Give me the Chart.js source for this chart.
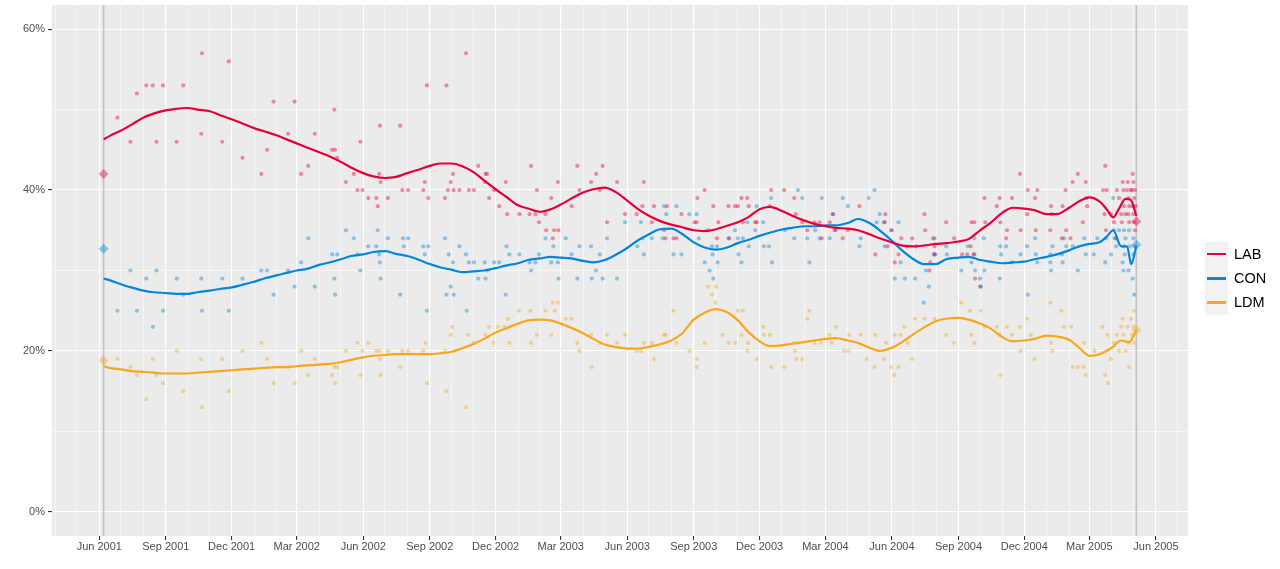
<!DOCTYPE html>
<html>
<head>
<meta charset="utf-8">
<script src="https://cdn.jsdelivr.net/npm/chart.js@4/dist/chart.umd.min.js"></script>
<style>
html, body { margin: 0; padding: 0; background: #fff; }
#wrap { position: relative; width: 1280px; height: 569px; }
#legend { position: absolute; left: 1205px; top: 242px; font-family: "Liberation Sans", Arial, sans-serif; font-size: 14.5px; color: #000; }
.row { display: flex; align-items: center; height: 24.2px; }
.key { width: 23px; height: 24.2px; background: #f2f2f2; position: relative; }
.key span { position: absolute; left: 2px; right: 2px; top: 10.8px; height: 2.6px; }
.lbl { margin-left: 6px; }
</style>
</head>
<body>
<div id="wrap">
  <canvas id="c" width="1280" height="569"></canvas>
  <div id="legend"></div>
</div>
<script>
// parties
var partyNames  = ['LAB', 'CON', 'LDM'];
var partyColors = ['#E4003B', '#0087DC', '#FAA61A'];
var pointColors = ['rgba(228,0,59,0.42)', 'rgba(0,135,220,0.42)', 'rgba(250,166,26,0.42)'];

// general elections and results (%)
var electionDates = ['2001-06-07', '2005-05-05'];
var labResult = [42.0, 36.1];
var conResult = [32.7, 33.2];
var ldmResult = [18.8, 22.6];

// x axis ticks
var xTickDates  = ['2001-06-01','2001-09-01','2001-12-01','2002-03-01','2002-06-01','2002-09-01','2002-12-01','2003-03-01','2003-06-01','2003-09-01','2003-12-01','2004-03-01','2004-06-01','2004-09-01','2004-12-01','2005-03-01','2005-06-01'];
var xTickLabels = ['Jun 2001','Sep 2001','Dec 2001','Mar 2002','Jun 2002','Sep 2002','Dec 2002','Mar 2003','Jun 2003','Sep 2003','Dec 2003','Mar 2004','Jun 2004','Sep 2004','Dec 2004','Mar 2005','Jun 2005'];
var yMajor = [0, 20, 40, 60];
var yMinor = [10, 30, 50];

// opinion polls [fieldwork date, %]
var labPolls = [
  ['2001-06-26',49],['2001-07-14',46],['2001-07-23',52],['2001-08-05',53],['2001-08-14',53],['2001-08-19',46],['2001-08-28',53],['2001-09-16',46],['2001-09-25',53],['2001-10-20',47],['2001-10-21',57],['2001-11-18',46],['2001-11-27',56],['2001-12-16',44],
  ['2002-01-11',42],['2002-01-19',45],['2002-01-28',51],['2002-02-17',47],['2002-02-26',51],['2002-03-07',42],['2002-03-17',43],['2002-03-26',47],['2002-04-19',45],['2002-04-22',50],['2002-04-23',45],['2002-04-26',44],['2002-05-08',41],['2002-05-19',42],['2002-05-24',40],['2002-05-28',46],['2002-05-31',40],['2002-06-08',39],['2002-06-19',39],['2002-06-21',38],['2002-06-23',42],['2002-06-24',48],['2002-06-25',41],['2002-07-05',39],['2002-07-22',48],['2002-07-25',40],['2002-08-02',40],['2002-08-23',40],['2002-08-25',41],['2002-08-28',53],['2002-08-30',39],['2002-09-22',39],['2002-09-24',53],['2002-09-26',40],['2002-09-30',41],['2002-10-03',42],['2002-10-04',40],['2002-10-12',40],['2002-10-21',57],['2002-10-25',40],['2002-11-01',40],['2002-11-07',43],['2002-11-16',41],['2002-11-17',42],['2002-11-19',42],['2002-11-22',39],['2002-11-29',40],['2002-12-06',38],['2002-12-15',41],['2002-12-17',37],
  ['2003-01-03',37],['2003-01-17',37],['2003-01-19',43],['2003-01-25',37],['2003-01-27',40],['2003-01-30',36],['2003-02-08',37],['2003-02-09',35],['2003-02-16',39],['2003-02-18',34],['2003-02-20',35],['2003-02-25',41],['2003-02-26',35],['2003-03-16',38],['2003-03-24',43],['2003-03-27',40],['2003-04-12',41],['2003-04-19',42],['2003-04-24',40],['2003-04-28',43],['2003-05-04',36],['2003-05-18',41],['2003-05-29',37],['2003-06-14',37],['2003-06-22',38],['2003-06-24',41],['2003-07-05',36],['2003-07-08',38],['2003-07-22',35],['2003-07-24',34],['2003-07-26',38],['2003-08-04',34],['2003-08-08',34],['2003-08-15',37],['2003-09-02',36],['2003-09-05',36],['2003-09-06',39],['2003-09-16',40],['2003-09-21',35],['2003-09-28',38],['2003-10-03',34],['2003-10-05',36],['2003-10-19',38],['2003-10-20',34],['2003-10-28',38],['2003-11-01',38],['2003-11-06',39],['2003-11-08',36],['2003-11-14',39],['2003-11-16',38],['2003-11-25',36],['2003-11-27',36],['2003-12-15',38],['2003-12-17',40],
  ['2004-01-04',40],['2004-01-18',39],['2004-01-20',37],['2004-01-29',36],['2004-02-05',35],['2004-02-15',36],['2004-02-22',36],['2004-02-25',34],['2004-03-07',36],['2004-03-11',37],['2004-03-14',35],['2004-03-25',34],['2004-04-01',35],['2004-04-17',38],['2004-05-09',32],['2004-05-22',36],['2004-05-23',37],['2004-05-26',33],['2004-05-31',35],['2004-06-05',31],['2004-06-10',32],['2004-06-14',34],['2004-06-22',33],['2004-06-29',34],['2004-07-05',33],['2004-07-16',37],['2004-07-17',35],['2004-07-23',30],['2004-07-24',31],['2004-07-28',34],['2004-07-29',32],['2004-07-30',33],['2004-08-15',36],['2004-08-26',34],['2004-09-06',32],['2004-09-13',32],['2004-09-18',33],['2004-09-19',36],['2004-09-22',32],['2004-09-23',36],['2004-09-24',29],['2004-10-01',28],['2004-10-07',39],['2004-10-08',36],['2004-10-24',38],['2004-10-28',39],['2004-10-29',36],['2004-11-06',34],['2004-11-07',35],['2004-11-14',39],['2004-11-25',42],['2004-11-26',35],['2004-12-05',37],['2004-12-06',40],['2004-12-16',39],['2004-12-17',35],['2004-12-19',40],
  ['2005-01-06',35],['2005-01-07',38],['2005-01-08',37],['2005-01-22',34],['2005-01-23',38],['2005-01-27',40],['2005-01-28',35],['2005-02-03',34],['2005-02-06',41],['2005-02-13',42],['2005-02-20',36],['2005-02-24',41],['2005-02-25',39],['2005-02-26',38],['2005-03-20',40],['2005-03-22',37],['2005-03-23',43],['2005-03-24',35],['2005-03-25',40],['2005-03-31',37],['2005-04-04',36],['2005-04-07',34],['2005-04-08',40],['2005-04-11',39],['2005-04-14',37],['2005-04-15',36],['2005-04-16',41],['2005-04-17',40],['2005-04-18',38],['2005-04-20',37],['2005-04-22',40],['2005-04-23',41],['2005-04-24',39],['2005-04-24',37],['2005-04-25',36],['2005-04-25',38],['2005-04-27',40],['2005-04-29',40],['2005-04-30',42],['2005-04-30',38],['2005-05-01',41],['2005-05-01',37],['2005-05-02',39],['2005-05-02',36],['2005-05-03',35],['2005-05-03',40],['2005-05-04',38]
];
var conPolls = [
  ['2001-06-26',25],['2001-07-14',30],['2001-07-23',25],['2001-08-05',29],['2001-08-14',23],['2001-08-19',30],['2001-08-28',25],['2001-09-16',29],['2001-09-25',27],['2001-10-20',29],['2001-10-21',25],['2001-11-18',29],['2001-11-27',25],['2001-12-16',29],
  ['2002-01-11',30],['2002-01-19',30],['2002-01-28',27],['2002-02-17',30],['2002-02-26',28],['2002-03-07',31],['2002-03-17',34],['2002-03-26',28],['2002-04-19',32],['2002-04-22',29],['2002-04-23',27],['2002-04-26',32],['2002-05-08',35],['2002-05-19',34],['2002-05-24',32],['2002-05-28',30],['2002-06-08',33],['2002-06-19',33],['2002-06-21',35],['2002-06-23',32],['2002-06-24',31],['2002-06-25',29],['2002-07-05',34],['2002-07-22',27],['2002-07-26',34],['2002-07-27',33],['2002-08-02',34],['2002-08-23',33],['2002-08-25',32],['2002-08-28',25],['2002-08-30',33],['2002-09-22',34],['2002-09-24',27],['2002-09-27',32],['2002-09-30',28],['2002-10-03',31],['2002-10-04',27],['2002-10-12',33],['2002-10-21',32],['2002-10-22',25],['2002-10-25',31],['2002-11-01',31],['2002-11-07',29],['2002-11-16',31],['2002-11-17',29],['2002-11-20',30],['2002-11-29',31],['2002-12-06',31],['2002-12-15',27],['2002-12-16',33],['2002-12-20',32],
  ['2003-01-03',32],['2003-01-17',31],['2003-01-19',30],['2003-01-25',31],['2003-01-30',32],['2003-02-08',34],['2003-02-16',31],['2003-02-19',33],['2003-02-25',31],['2003-02-26',29],['2003-03-08',34],['2003-03-16',32],['2003-03-24',29],['2003-03-27',33],['2003-04-12',33],['2003-04-13',29],['2003-04-19',30],['2003-04-24',32],['2003-04-28',29],['2003-05-04',34],['2003-05-18',29],['2003-05-29',36],['2003-06-15',33],['2003-06-20',36],['2003-06-22',34],['2003-06-24',32],['2003-07-05',34],['2003-07-20',34],['2003-07-22',38],['2003-07-25',37],['2003-08-04',32],['2003-08-08',38],['2003-08-15',32],['2003-08-26',37],['2003-09-05',37],['2003-09-08',34],['2003-09-16',31],['2003-09-23',30],['2003-09-26',33],['2003-09-27',32],['2003-09-28',29],['2003-10-03',33],['2003-10-04',31],['2003-10-19',34],['2003-10-28',35],['2003-11-01',34],['2003-11-02',32],['2003-11-06',31],['2003-11-08',34],['2003-11-14',36],['2003-11-16',33],['2003-11-25',35],['2003-11-27',38],['2003-12-06',36],['2003-12-07',33],['2003-12-14',33],['2003-12-17',39],['2003-12-18',31],
  ['2004-01-05',35],['2004-01-18',34],['2004-01-23',40],['2004-01-29',39],['2004-02-05',34],['2004-02-08',31],['2004-02-16',35],['2004-02-22',34],['2004-02-25',39],['2004-03-07',34],['2004-03-12',37],['2004-03-15',35],['2004-03-25',39],['2004-04-01',38],['2004-04-17',33],['2004-04-19',34],['2004-04-30',39],['2004-05-08',40],['2004-05-11',36],['2004-05-15',37],['2004-05-21',36],['2004-05-22',33],['2004-06-01',35],['2004-06-05',29],['2004-06-10',36],['2004-06-13',31],['2004-06-19',29],['2004-07-03',29],['2004-07-15',26],['2004-07-18',30],['2004-07-22',28],['2004-07-30',34],['2004-07-30',32],['2004-07-31',32],['2004-08-15',33],['2004-08-16',32],['2004-09-05',30],['2004-09-14',33],['2004-09-19',31],['2004-09-23',34],['2004-09-23',32],['2004-09-24',30],['2004-10-01',29],['2004-10-02',28],['2004-10-06',34],['2004-10-07',30],['2004-10-28',29],['2004-10-29',33],['2004-10-30',32],['2004-11-06',33],['2004-11-14',31],['2004-11-26',32],['2004-12-05',33],['2004-12-06',27],['2004-12-16',34],['2004-12-17',32],['2004-12-19',31],
  ['2005-01-06',32],['2005-01-06',31],['2005-01-07',30],['2005-01-09',33],['2005-01-22',32],['2005-01-23',31],['2005-01-25',34],['2005-01-28',33],['2005-02-06',33],['2005-02-13',30],['2005-02-22',34],['2005-02-24',32],['2005-03-07',32],['2005-03-12',34],['2005-03-23',31],['2005-03-24',34],['2005-03-31',32],['2005-04-03',39],['2005-04-04',35],['2005-04-05',34],['2005-04-07',33],['2005-04-11',35],['2005-04-16',31],['2005-04-17',30],['2005-04-18',35],['2005-04-18',33],['2005-04-19',32],['2005-04-20',34],['2005-04-24',30],['2005-04-25',35],['2005-04-26',33],['2005-04-28',31],['2005-04-30',29],['2005-05-01',34],['2005-05-01',32],['2005-05-02',27],['2005-05-02',33]
];
var ldmPolls = [
  ['2001-06-26',19],['2001-07-14',18],['2001-07-23',17],['2001-08-05',14],['2001-08-14',19],['2001-08-19',17],['2001-08-28',16],['2001-09-16',20],['2001-09-25',15],['2001-10-20',19],['2001-10-21',13],['2001-11-18',19],['2001-11-27',15],['2001-12-16',20],
  ['2002-01-11',21],['2002-01-19',19],['2002-01-28',16],['2002-02-17',18],['2002-02-26',16],['2002-03-07',20],['2002-03-17',17],['2002-03-26',19],['2002-04-19',17],['2002-04-22',18],['2002-04-23',16],['2002-04-26',18],['2002-05-08',20],['2002-05-24',21],['2002-05-28',17],['2002-05-31',20],['2002-06-08',21],['2002-06-19',20],['2002-06-23',20],['2002-06-24',19],['2002-06-25',17],['2002-07-05',20],['2002-07-22',18],['2002-07-25',20],['2002-08-02',20],['2002-08-23',20],['2002-08-26',21],['2002-08-28',16],['2002-09-22',20],['2002-09-24',15],['2002-09-30',22],['2002-10-02',23],['2002-10-21',13],['2002-10-24',22],['2002-11-01',21],['2002-11-17',22],['2002-11-22',23],['2002-11-28',21],['2002-12-04',23],['2002-12-13',23],['2002-12-18',24],['2002-12-20',21],
  ['2003-01-02',25],['2003-01-18',25],['2003-01-19',21],['2003-01-27',22],['2003-02-08',25],['2003-02-16',22],['2003-02-18',26],['2003-02-21',25],['2003-02-25',26],['2003-03-08',24],['2003-03-16',24],['2003-03-24',21],['2003-03-27',20],['2003-04-12',22],['2003-04-13',18],['2003-04-24',21],['2003-05-04',22],['2003-05-18',21],['2003-05-29',22],['2003-06-14',20],['2003-06-20',20],['2003-06-24',21],['2003-07-05',21],['2003-07-08',19],['2003-07-22',22],['2003-07-24',22],['2003-08-04',25],['2003-08-08',21],['2003-08-26',20],['2003-09-05',18],['2003-09-06',19],['2003-09-16',21],['2003-09-21',28],['2003-09-26',27],['2003-10-01',26],['2003-10-02',28],['2003-10-11',22],['2003-10-19',21],['2003-10-28',21],['2003-11-01',25],['2003-11-06',22],['2003-11-08',25],['2003-11-14',20],['2003-11-15',21],['2003-11-27',19],['2003-12-06',23],['2003-12-07',22],['2003-12-15',22],['2003-12-17',18],
  ['2004-01-04',18],['2004-01-18',21],['2004-01-19',20],['2004-01-21',19],['2004-01-29',19],['2004-02-05',24],['2004-02-08',25],['2004-02-15',21],['2004-02-24',21],['2004-03-07',22],['2004-03-10',21],['2004-03-16',23],['2004-03-27',20],['2004-04-02',20],['2004-04-03',22],['2004-04-19',22],['2004-04-27',19],['2004-05-08',18],['2004-05-09',22],['2004-05-21',19],['2004-05-24',21],['2004-05-31',18],['2004-06-04',17],['2004-06-05',22],['2004-06-10',18],['2004-06-13',22],['2004-06-18',23],['2004-06-23',21],['2004-06-29',19],['2004-07-03',24],['2004-07-16',24],['2004-07-30',24],['2004-08-15',22],['2004-08-26',21],['2004-09-05',26],['2004-09-17',25],['2004-09-19',22],['2004-09-23',21],['2004-10-02',25],['2004-10-07',23],['2004-10-24',23],['2004-10-28',22],['2004-10-29',17],['2004-11-07',23],['2004-11-14',22],['2004-11-25',23],['2004-11-26',20],['2004-12-05',24],['2004-12-10',22],['2004-12-15',19],
  ['2005-01-06',26],['2005-01-07',21],['2005-01-09',20],['2005-01-21',25],['2005-01-25',23],['2005-02-04',23],['2005-02-06',18],['2005-02-13',18],['2005-02-21',18],['2005-02-22',21],['2005-02-24',17],['2005-03-08',20],['2005-03-19',23],['2005-03-23',17],['2005-03-26',22],['2005-03-27',16],['2005-03-31',19],['2005-04-04',21],['2005-04-08',22],['2005-04-11',20],['2005-04-14',23],['2005-04-16',24],['2005-04-17',22],['2005-04-20',20],['2005-04-23',23],['2005-04-24',21],['2005-04-25',18],['2005-04-28',24],['2005-04-29',22],['2005-05-01',23],['2005-05-02',25],['2005-05-02',21]
];

// smoothed trend
var labTrend = [
  ['2001-06-07',46.3],['2001-06-15',46.7],['2001-07-01',47.4],['2001-07-15',48.1],['2001-08-01',49.0],['2001-08-15',49.5],['2001-09-01',49.9],['2001-09-15',50.1],['2001-10-01',50.2],['2001-10-15',50.0],['2001-11-01',49.8],['2001-11-15',49.3],['2001-12-01',48.8],['2001-12-15',48.3],
  ['2002-01-01',47.7],['2002-01-15',47.3],['2002-02-01',46.8],['2002-02-15',46.3],['2002-03-01',45.8],['2002-03-15',45.3],['2002-04-01',44.7],['2002-04-15',44.2],['2002-05-01',43.5],['2002-05-15',42.8],['2002-06-01',42.1],['2002-06-15',41.7],['2002-07-01',41.5],['2002-07-15',41.6],['2002-08-01',42.1],['2002-08-15',42.5],['2002-09-01',43.0],['2002-09-15',43.3],['2002-10-01',43.3],['2002-10-15',43.0],['2002-11-01',42.2],['2002-11-15',41.2],['2002-12-01',40.1],['2002-12-15',39.2],
  ['2003-01-01',38.1],['2003-01-15',37.7],['2003-02-01',37.3],['2003-02-15',37.6],['2003-03-01',38.2],['2003-03-15',38.9],['2003-04-01',39.7],['2003-04-15',40.1],['2003-05-01',40.3],['2003-05-15',39.8],['2003-06-01',38.7],['2003-06-15',37.7],['2003-07-01',36.8],['2003-07-15',36.2],['2003-08-01',35.7],['2003-08-15',35.4],['2003-09-01',35.0],['2003-09-15',34.9],['2003-10-01',35.1],['2003-10-15',35.5],['2003-11-01',36.0],['2003-11-15',36.6],['2003-12-01',37.6],['2003-12-15',37.9],
  ['2004-01-01',37.4],['2004-01-15',36.8],['2004-02-01',36.2],['2004-02-15',35.8],['2004-03-01',35.5],['2004-03-15',35.3],['2004-04-01',35.2],['2004-04-15',35.0],['2004-05-01',34.5],['2004-05-15',34.0],['2004-06-01',33.5],['2004-06-15',33.1],['2004-07-01',33.0],['2004-07-15',33.1],['2004-08-01',33.3],['2004-08-15',33.4],['2004-09-01',33.6],['2004-09-15',33.9],['2004-10-01',35.0],['2004-10-15',35.9],['2004-11-01',37.2],['2004-11-15',37.8],['2004-12-01',37.7],['2004-12-15',37.5],
  ['2005-01-01',37.0],['2005-01-15',37.0],['2005-02-01',37.8],['2005-02-15',38.6],['2005-03-01',39.1],['2005-03-15',38.6],['2005-03-25',37.6],['2005-04-03',36.6],['2005-04-11',37.7],['2005-04-20',38.9],['2005-04-27',38.8],['2005-05-05',36.8]
];
var conTrend = [
  ['2001-06-07',29.0],['2001-06-15',28.8],['2001-07-01',28.3],['2001-07-15',27.9],['2001-08-01',27.5],['2001-08-15',27.3],['2001-09-01',27.2],['2001-09-15',27.1],['2001-10-01',27.1],['2001-10-15',27.3],['2001-11-01',27.5],['2001-11-15',27.7],['2001-12-01',27.9],['2001-12-15',28.2],
  ['2002-01-01',28.6],['2002-01-15',29.0],['2002-02-01',29.4],['2002-02-15',29.7],['2002-03-01',30.0],['2002-03-15',30.2],['2002-04-01',30.7],['2002-04-15',31.0],['2002-05-01',31.4],['2002-05-15',31.8],['2002-06-01',32.0],['2002-06-15',32.3],['2002-07-01',32.4],['2002-07-15',32.1],['2002-08-01',31.8],['2002-08-15',31.4],['2002-09-01',30.8],['2002-09-15',30.4],['2002-10-01',30.1],['2002-10-15',29.8],['2002-11-01',29.9],['2002-11-15',30.0],['2002-12-01',30.3],['2002-12-15',30.6],
  ['2003-01-01',30.9],['2003-01-15',31.3],['2003-02-01',31.5],['2003-02-15',31.7],['2003-03-01',31.6],['2003-03-15',31.5],['2003-04-01',31.2],['2003-04-15',31.0],['2003-05-01',31.3],['2003-05-15',31.9],['2003-06-01',32.8],['2003-06-15',33.7],['2003-07-01',34.5],['2003-07-15',35.1],['2003-08-01',35.2],['2003-08-15',34.6],['2003-09-01',33.5],['2003-09-15',32.9],['2003-10-01',32.6],['2003-10-15',32.8],['2003-11-01',33.4],['2003-11-15',33.8],['2003-12-01',34.3],['2003-12-15',34.7],
  ['2004-01-01',35.1],['2004-01-15',35.3],['2004-02-01',35.5],['2004-02-15',35.5],['2004-03-01',35.6],['2004-03-15',35.6],['2004-04-01',35.9],['2004-04-15',36.4],['2004-05-01',35.9],['2004-05-15',35.0],['2004-06-01',33.7],['2004-06-15',32.5],['2004-07-01',31.4],['2004-07-15',30.8],['2004-08-01',30.8],['2004-08-15',31.4],['2004-09-01',31.6],['2004-09-15',31.7],['2004-10-01',31.3],['2004-10-15',31.1],['2004-11-01',30.9],['2004-11-15',31.0],['2004-12-01',31.1],['2004-12-15',31.4],
  ['2005-01-01',31.7],['2005-01-15',32.0],['2005-02-01',32.5],['2005-02-15',33.0],['2005-03-01',33.3],['2005-03-15',33.5],['2005-03-25',34.2],['2005-04-03',35.0],['2005-04-14',33.0],['2005-04-22',33.0],['2005-04-28',30.8],['2005-05-05',33.1]
];
var ldmTrend = [
  ['2001-06-07',18.1],['2001-06-15',17.9],['2001-07-01',17.7],['2001-07-15',17.5],['2001-08-01',17.4],['2001-08-15',17.3],['2001-09-01',17.2],['2001-09-15',17.2],['2001-10-01',17.2],['2001-10-15',17.3],['2001-11-01',17.4],['2001-11-15',17.5],['2001-12-01',17.6],['2001-12-15',17.7],
  ['2002-01-01',17.8],['2002-01-15',17.9],['2002-02-01',18.0],['2002-02-15',18.0],['2002-03-01',18.1],['2002-03-15',18.2],['2002-04-01',18.3],['2002-04-15',18.4],['2002-05-01',18.6],['2002-05-15',18.9],['2002-06-01',19.2],['2002-06-15',19.4],['2002-07-01',19.5],['2002-07-15',19.6],['2002-08-01',19.6],['2002-08-15',19.6],['2002-09-01',19.6],['2002-09-15',19.7],['2002-10-01',19.9],['2002-10-15',20.3],['2002-11-01',20.9],['2002-11-15',21.5],['2002-12-01',22.3],['2002-12-15',22.8],
  ['2003-01-01',23.4],['2003-01-15',23.8],['2003-02-01',23.9],['2003-02-15',23.8],['2003-03-01',23.4],['2003-03-15',22.9],['2003-04-01',22.2],['2003-04-15',21.5],['2003-05-01',20.8],['2003-05-15',20.5],['2003-06-01',20.3],['2003-06-15',20.3],['2003-07-01',20.5],['2003-07-15',20.8],['2003-08-01',21.3],['2003-08-15',22.1],['2003-09-01',23.9],['2003-09-15',24.7],['2003-10-01',25.2],['2003-10-15',24.9],['2003-11-01',23.8],['2003-11-15',22.4],['2003-12-01',21.2],['2003-12-15',20.6],
  ['2004-01-01',20.7],['2004-01-15',20.9],['2004-02-01',21.1],['2004-02-15',21.3],['2004-03-01',21.5],['2004-03-15',21.6],['2004-04-01',21.3],['2004-04-15',21.0],['2004-05-01',20.4],['2004-05-15',20.0],['2004-06-01',20.4],['2004-06-15',21.1],['2004-07-01',22.1],['2004-07-15',22.9],['2004-08-01',23.7],['2004-08-15',24.0],['2004-09-01',24.1],['2004-09-15',23.9],['2004-10-01',23.4],['2004-10-15',22.8],['2004-11-01',21.7],['2004-11-15',21.2],['2004-12-01',21.3],['2004-12-15',21.5],
  ['2005-01-01',21.9],['2005-01-15',21.8],['2005-02-01',21.4],['2005-02-15',20.4],['2005-03-01',19.4],['2005-03-15',19.6],['2005-04-01',20.4],['2005-04-14',21.3],['2005-04-25',21.1],['2005-05-05',22.6]
];

// helpers
function day(s) {
  return Date.UTC(+s.slice(0, 4), +s.slice(5, 7) - 1, +s.slice(8, 10)) / 86400000;
}
function xy(pairs) {
  return pairs.map(function(p) { return {x: day(p[0]), y: p[1]}; });
}

// axis limits, ggplot style 5% expansion around the two elections
var e0 = day(electionDates[0]), e1 = day(electionDates[1]);
var xMin = e0 - (e1 - e0) * 0.05, xMax = e1 + (e1 - e0) * 0.05;

var xLabelOf = {};
xTickDates.forEach(function(d, i) { xLabelOf[day(d)] = xTickLabels[i]; });
var xTicks = [];
for (var yr = 2001; yr <= 2005; yr++) {
  for (var m = 0; m < 12; m++) {
    var v = Date.UTC(yr, m, 1) / 86400000;
    if (v >= xMin && v <= xMax) xTicks.push(v);
  }
}
var yTicks = yMajor.concat(yMinor).sort(function(a, b) { return a - b; });

// datasets
var results = [labResult, conResult, ldmResult];
var polls   = [labPolls, conPolls, ldmPolls];
var trends  = [labTrend, conTrend, ldmTrend];
var datasets = [];

electionDates.forEach(function(d) {
  datasets.push({
    data: [{x: day(d), y: -3}, {x: day(d), y: 63}],
    showLine: true, borderColor: '#C2C2C2', borderWidth: 1.6,
    pointRadius: 0, order: 10
  });
});
partyNames.forEach(function(name, i) {
  datasets.push({
    label: name + ' polls',
    data: xy(polls[i]),
    backgroundColor: pointColors[i], borderWidth: 0,
    pointRadius: 2.1, order: 5
  });
  datasets.push({
    label: name + ' result',
    data: electionDates.map(function(d, k) { return {x: day(d), y: results[i][k]}; }),
    backgroundColor: pointColors[i], borderWidth: 0,
    pointStyle: 'rectRot', pointRadius: 5, order: 4
  });
});
partyNames.forEach(function(name, i) {
  datasets.push({
    label: name,
    data: xy(trends[i]),
    showLine: true, borderColor: partyColors[i], borderWidth: 2.2,
    pointRadius: 0, cubicInterpolationMode: 'monotone', order: 1
  });
});

var panelBg = {
  id: 'panelBg',
  beforeDraw: function(chart) {
    var a = chart.chartArea, ctx = chart.ctx;
    ctx.save();
    ctx.fillStyle = '#EBEBEB';
    ctx.fillRect(a.left, a.top, a.right - a.left, a.bottom - a.top);
    ctx.restore();
  }
};

Chart.defaults.font.family = '"Liberation Sans", Arial, sans-serif';

new Chart(document.getElementById('c'), {
  type: 'scatter',
  data: {datasets: datasets},
  plugins: [panelBg],
  options: {
    responsive: false,
    animation: false,
    layout: {padding: {top: 5, right: 92, bottom: 0, left: 0}},
    plugins: {legend: {display: false}, tooltip: {enabled: false}},
    scales: {
      x: {
        type: 'linear', min: xMin, max: xMax,
        afterBuildTicks: function(s) { s.ticks = xTicks.map(function(v) { return {value: v}; }); },
        afterFit: function(s) { s.height = 33; s.paddingLeft = 0; s.paddingRight = 0; },
        border: {display: false},
        grid: {
          color: '#FFFFFF',
          lineWidth: function(c) { return c.tick && xLabelOf[c.tick.value] ? 1.1 : 0.55; },
          tickColor: function(c) { return c.tick && xLabelOf[c.tick.value] ? '#333333' : 'rgba(0,0,0,0)'; },
          tickLength: 4
        },
        ticks: {
          autoSkip: false, maxRotation: 0, padding: 0,
          color: '#4D4D4D', font: {size: 11},
          callback: function(v) { return xLabelOf[v] || ''; }
        }
      },
      y: {
        min: -3, max: 63,
        afterBuildTicks: function(s) { s.ticks = yTicks.map(function(v) { return {value: v}; }); },
        afterFit: function(s) { s.width = 52; s.paddingTop = 0; s.paddingBottom = 0; },
        border: {display: false},
        grid: {
          color: '#FFFFFF',
          lineWidth: function(c) { return c.tick && yMajor.indexOf(c.tick.value) >= 0 ? 1.1 : 0.55; },
          tickColor: function(c) { return c.tick && yMajor.indexOf(c.tick.value) >= 0 ? '#333333' : 'rgba(0,0,0,0)'; },
          tickLength: 4
        },
        ticks: {
          padding: 3, color: '#4D4D4D', font: {size: 11},
          callback: function(v) { return yMajor.indexOf(v) >= 0 ? v + '%' : ''; }
        }
      }
    }
  }
});

// legend
var lg = document.getElementById('legend');
partyNames.forEach(function(name, i) {
  var row = document.createElement('div');
  row.className = 'row';
  row.innerHTML = '<div class="key"><span style="background:' + partyColors[i] + '"></span></div><div class="lbl">' + name + '</div>';
  lg.appendChild(row);
});
</script>
</body>
</html>
